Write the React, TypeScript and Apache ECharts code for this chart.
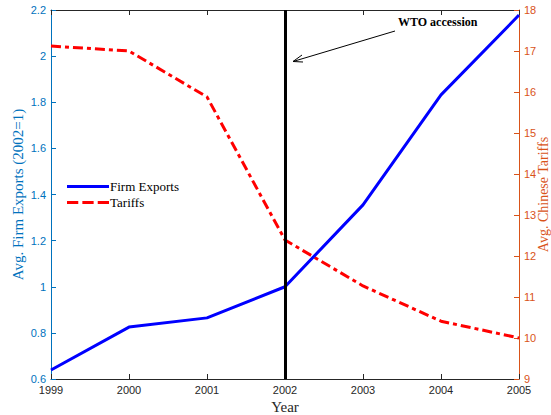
import React, { useEffect, useRef } from "react";
import * as echarts from "echarts";

const years = [1999, 2000, 2001, 2002, 2003, 2004, 2005];
const firmExports = [0.639, 0.825, 0.865, 1.0, 1.355, 1.832, 2.178];
const tariffs = [17.12, 17.0, 15.88, 12.39, 11.27, 10.41, 10.0];
const wtoYear = 2002;

const SERIF = "'Liberation Serif', 'DejaVu Serif', serif";
const SANS = "'Liberation Sans', Arial, sans-serif";
const BLUE_AX = "#0072BD";
const RED_AX = "#D95319";
const GRAY = "#262626";

export default function App() {
  const ref = useRef<HTMLDivElement>(null);
  useEffect(() => {
    if (!ref.current) return;
    const chart = echarts.init(ref.current, undefined, { renderer: "svg" });
    chart.setOption({
      animation: false,
      backgroundColor: "#fff",
      grid: { left: 51, right: 32, top: 10, bottom: 36, containLabel: false, outerBoundsMode: "none" },
      legend: {
        orient: "vertical",
        left: 62,
        top: 175,
        itemWidth: 42,
        itemHeight: 12,
        itemGap: 3,
        textStyle: { fontFamily: SERIF, fontSize: 13, color: "#000", padding: [0, 0, 0, -4] },
        data: [
          { name: "Firm Exports", icon: "path://M0,0 L40,0 L40,3 L0,3 Z", itemStyle: { color: "#0000FF" } },
          { name: "Tariffs", icon: "path://M0,0 L11,0 L11,3 L0,3 Z M15,0 L26,0 L26,3 L15,3 Z M30,0 L41,0 L41,3 L30,3 Z", itemStyle: { color: "#FF0000" } },
        ],
      },
      xAxis: [
        {
          type: "value",
          min: 1999,
          max: 2005,
          interval: 1,
          name: "Year",
          nameLocation: "middle",
          nameGap: 19,
          nameTextStyle: { fontFamily: SERIF, fontSize: 15, color: GRAY },
          axisLine: { lineStyle: { color: GRAY, width: 1 } },
          axisTick: { inside: true, length: 5, lineStyle: { color: GRAY } },
          axisLabel: { formatter: (v: number) => String(v), fontFamily: SANS, fontSize: 11, color: GRAY, margin: 5 },
          splitLine: { show: false },
        },
        {
          type: "value",
          position: "top",
          min: 1999,
          max: 2005,
          interval: 1,
          axisLine: { lineStyle: { color: GRAY, width: 1 } },
          axisTick: { inside: true, length: 5, lineStyle: { color: GRAY } },
          axisLabel: { show: false },
          splitLine: { show: false },
        },
      ],
      yAxis: [
        {
          type: "value",
          min: 0.6,
          max: 2.2,
          interval: 0.2,
          position: "left",
          name: "Avg. Firm Exports (2002=1)",
          nameLocation: "middle",
          nameGap: 26,
          nameRotate: 90,
          nameMoveOverlap: false,
          nameTextStyle: { fontFamily: SERIF, fontSize: 15, color: BLUE_AX, verticalAlign: "bottom" },
          axisLine: { show: true, lineStyle: { color: BLUE_AX, width: 1 } },
          axisTick: { show: true, inside: true, length: 5, lineStyle: { color: BLUE_AX } },
          axisLabel: {
            formatter: (v: number) => String(Math.round(v * 10) / 10),
            fontFamily: SANS,
            fontSize: 11,
            color: BLUE_AX,
            margin: 5,
          },
          splitLine: { show: false },
        },
        {
          type: "value",
          min: 9,
          max: 18,
          interval: 1,
          position: "right",
          name: "Avg. Chinese Tariffs",
          nameLocation: "middle",
          nameGap: 17,
          nameRotate: 90,
          nameMoveOverlap: false,
          nameTextStyle: { fontFamily: SERIF, fontSize: 14, color: RED_AX, verticalAlign: "top" },
          axisLine: { show: true, lineStyle: { color: RED_AX, width: 1 } },
          axisTick: { show: true, inside: true, length: 5, lineStyle: { color: RED_AX } },
          axisLabel: { fontFamily: SANS, fontSize: 11, color: RED_AX, margin: 5 },
          splitLine: { show: false },
        },
      ],
      series: [
        {
          name: "Firm Exports",
          type: "line",
          xAxisIndex: 0,
          yAxisIndex: 0,
          data: years.map((y, i) => [y, firmExports[i]]),
          symbol: "none",
          lineStyle: { color: "#0000FF", width: 3 },
          itemStyle: { color: "#0000FF" },
          z: 3,
          markLine: {
            silent: true,
            symbol: ["none", "none"],
            label: { show: false },
            lineStyle: { color: "#000", width: 3, type: "solid" },
            data: [{ xAxis: wtoYear }],
          },
        },
        {
          name: "Tariffs",
          type: "line",
          xAxisIndex: 0,
          yAxisIndex: 1,
          data: years.map((y, i) => [y, tariffs[i]]),
          symbol: "none",
          lineStyle: { color: "#FF0000", width: 3, type: [10, 4, 4, 4] },
          itemStyle: { color: "#FF0000" },
          z: 2,
        },
      ],
      graphic: [
        {
          type: "text",
          left: 398,
          top: 16,
          style: { text: "WTO accession", fontFamily: SERIF, fontSize: 12, fontWeight: "bold", fill: "#000" },
        },
        {
          type: "line",
          shape: { x1: 395, y1: 31, x2: 293, y2: 61.5 },
          style: { stroke: "#000", lineWidth: 1 },
        },
        {
          type: "polyline",
          shape: { points: [[302, 55], [293, 61.5], [303, 62]] },
          style: { stroke: "#000", lineWidth: 1, fill: "none" },
        },
      ],
    });
    return () => chart.dispose();
  }, []);
  return <div ref={ref} style={{ width: 551, height: 415, position: "absolute", left: 0, top: 0 }} />;
}
